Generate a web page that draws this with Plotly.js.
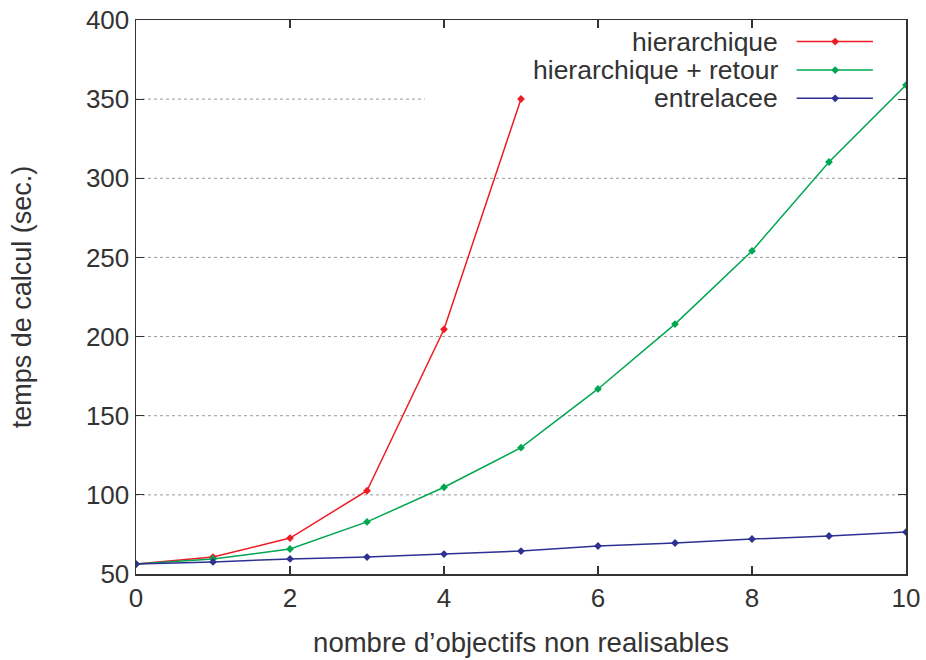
<!DOCTYPE html>
<html>
<head>
<meta charset="utf-8">
<script src="https://cdn.plot.ly/plotly-3.0.1.min.js"></script>
<style>html,body{margin:0;padding:0;background:#fff;}#chart{width:926px;height:660px;}</style>
</head>
<body>
<div id="chart"></div>
<script>
const xHier = [0, 1, 2, 3, 4, 5];
const yHier = [56.3, 60.7, 72.7, 102.6, 204.6, 350.1];
const xRetour = [0, 1, 2, 3, 4, 5, 6, 7, 8, 9, 10];
const yRetour = [56.3, 59.5, 65.8, 82.9, 104.8, 129.8, 166.9, 207.9, 254.1, 310.3, 358.9];
const xEntre = [0, 1, 2, 3, 4, 5, 6, 7, 8, 9, 10];
const yEntre = [56.3, 57.6, 59.5, 60.7, 62.6, 64.5, 67.7, 69.6, 72.1, 74.0, 76.5];
const seriesNames = ["hierarchique", "hierarchique + retour", "entrelacee"];
const seriesColors = ["#ed1c24", "#00a651", "#2e3192"];
const yGridValues = [100, 150, 200, 250, 300, 350];
const xTitle = "nombre d\u2019objectifs non realisables";
const yTitle = "temps de calcul (sec.)";

const FONT = "Liberation Sans, Arial, sans-serif";
const TXT = "#333333";

const series = [[xHier, yHier], [xRetour, yRetour], [xEntre, yEntre]];
const traces = series.map((s, i) => ({
  x: s[0], y: s[1], type: "scatter", mode: "lines+markers",
  name: seriesNames[i], showlegend: false,
  line: {color: seriesColors[i], width: 1.5},
  marker: {color: seriesColors[i], symbol: "diamond", size: 6}
}));

const annotations = [];
const shapes = [];
// dotted horizontal grid; the top one is interrupted by the key box
yGridValues.forEach(v => {
  shapes.push({type: "line", xref: "paper", yref: "y", x0: 0, x1: v >= 350 ? 0.375 : 1, y0: v, y1: v,
    line: {color: "#9a9a9a", width: 1, dash: "dot"}, layer: "below"});
});

// legend (custom, gnuplot style: text right, sample on the right)
const legY = [0.961, 0.9097, 0.8587];
seriesNames.forEach((n, i) => {
  traces.push({
    x: [0.908], y: [legY[i]], xaxis: "x2", yaxis: "y2", type: "scatter", mode: "markers",
    showlegend: false, hoverinfo: "skip",
    marker: {color: seriesColors[i], symbol: "diamond", size: 6}
  });
  shapes.push({type: "line", xref: "paper", yref: "paper", x0: 0.858, x1: 0.957, y0: legY[i], y1: legY[i],
    line: {color: seriesColors[i], width: 1.5}, layer: "above"});
  annotations.push({xref: "paper", yref: "paper", x: 0.836, y: legY[i], text: n, showarrow: false,
    xanchor: "right", yanchor: "middle", font: {family: FONT, size: 26.5, color: TXT}});
});

const layout = {
  width: 926, height: 660,
  margin: {l: 136, r: 20, t: 20, b: 86},
  paper_bgcolor: "#ffffff", plot_bgcolor: "#ffffff",
  font: {family: FONT, size: 26, color: TXT},
  showlegend: false,
  xaxis: {
    range: [0, 10], dtick: 2, tick0: 0, showgrid: false, zeroline: false,
    showline: true, linecolor: "#333333", linewidth: 1.5, mirror: "ticks",
    ticks: "inside", ticklen: 8, tickcolor: "#333333", tickwidth: 1.2,
    tickfont: {family: FONT, size: 26, color: TXT},
    title: {text: xTitle, font: {family: FONT, size: 27.5, color: TXT}, standoff: 21}
  },
  yaxis: {
    range: [50, 400], dtick: 50, tick0: 50, showgrid: false,
    zeroline: false, showline: true, linecolor: "#333333", linewidth: 1.5, mirror: "ticks",
    ticks: "inside", ticklen: 8, tickcolor: "#333333", tickwidth: 1.2,
    tickfont: {family: FONT, size: 26, color: TXT},
    title: {text: yTitle, font: {family: FONT, size: 27, color: TXT}, standoff: 46}
  },
  xaxis2: {overlaying: "x", range: [0, 1], visible: false, fixedrange: true},
  yaxis2: {overlaying: "y", range: [0, 1], visible: false, fixedrange: true},
  shapes: shapes,
  annotations: annotations
};

Plotly.newPlot("chart", traces, layout, {displayModeBar: false, staticPlot: true});
</script>
</body>
</html>
